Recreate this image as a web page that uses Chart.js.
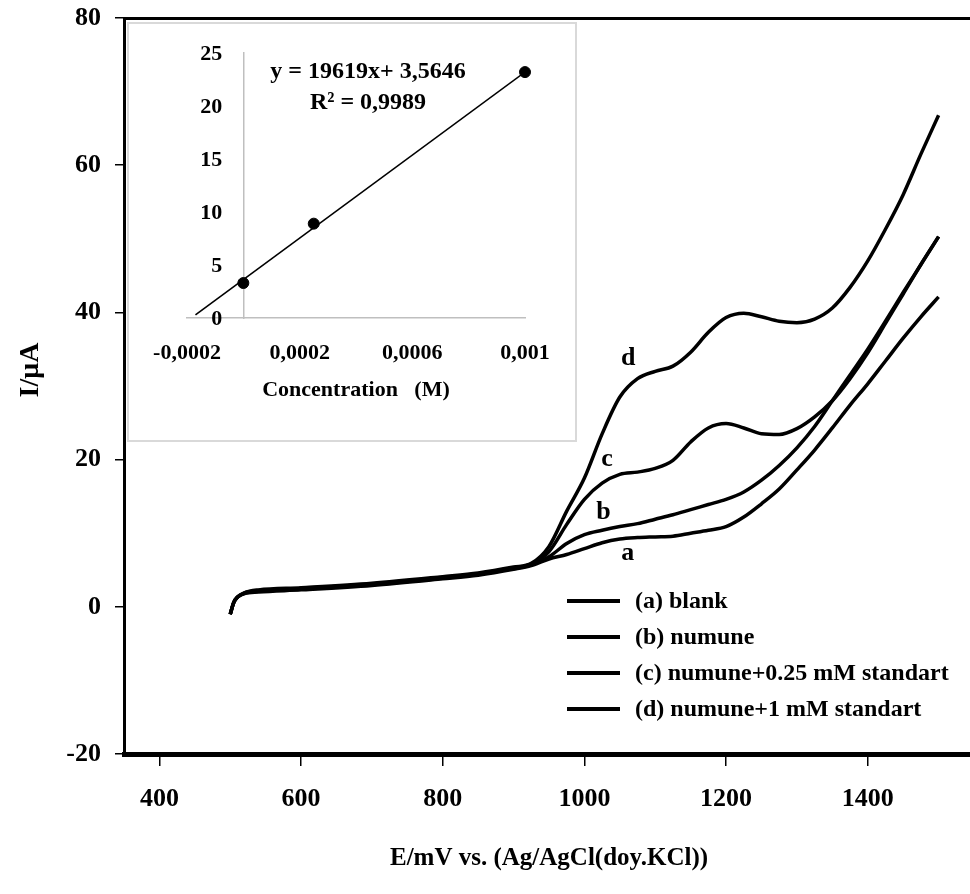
<!DOCTYPE html>
<html>
<head>
<meta charset="utf-8">
<script src="https://cdn.jsdelivr.net/npm/chart.js@4.4.1/dist/chart.umd.min.js"></script>
<style>
  html, body { margin: 0; padding: 0; background: #fff; overflow: hidden; }
  #wrap { position: relative; width: 970px; height: 894px; overflow: hidden; }
  #main { position: absolute; left: 0; top: 0; }
  #inset { position: absolute; left: 127px; top: 22px; width: 450px; height: 420px;
           box-sizing: border-box; border: 2px solid #d9d9d9; background: #fff; }
</style>
</head>
<body>
<div id="wrap">
  <canvas id="main" width="980" height="894"></canvas>
  <div id="inset"><canvas id="insetChart" width="446" height="416"></canvas></div>
</div>
<script>
// potential (mV) and currents (uA)
var potential = [500, 505, 510, 520, 540, 600, 700, 800, 850, 900, 925, 950, 975, 1000, 1025, 1050, 1075, 1100, 1125, 1150, 1175, 1200, 1225, 1250, 1275, 1300, 1325, 1350, 1375, 1400, 1425, 1450, 1475, 1500];
var blank  = [-1.0, 0.6, 1.3, 1.8, 2.0, 2.3, 2.9, 3.8, 4.3, 5.1, 5.6, 6.5, 7.1, 7.9, 8.7, 9.2, 9.4, 9.5, 9.6, 10.0, 10.4, 10.9, 12.2, 14.0, 16.0, 18.6, 21.3, 24.3, 27.4, 30.3, 33.4, 36.5, 39.4, 42.1];
var sample = [-1.0, 0.6, 1.3, 1.8, 2.1, 2.4, 3.0, 3.9, 4.4, 5.2, 5.7, 6.8, 8.6, 9.8, 10.4, 10.9, 11.3, 11.9, 12.5, 13.2, 13.9, 14.6, 15.6, 17.2, 19.2, 21.6, 24.5, 28.0, 31.5, 35.0, 38.8, 42.7, 46.5, 50.3];
var spiked025 = [-1.0, 0.6, 1.3, 1.9, 2.2, 2.5, 3.1, 4.0, 4.5, 5.3, 5.8, 7.5, 11.2, 14.6, 16.8, 18.0, 18.3, 18.8, 19.9, 22.4, 24.3, 24.9, 24.3, 23.5, 23.4, 24.2, 25.8, 28.0, 31.0, 34.5, 38.5, 42.5, 46.5, 50.3];
var spiked1 = [-1.0, 0.6, 1.3, 1.9, 2.3, 2.6, 3.2, 4.1, 4.6, 5.4, 5.9, 8.2, 13.0, 17.5, 23.5, 28.5, 31.0, 32.0, 32.7, 34.6, 37.3, 39.3, 39.9, 39.4, 38.8, 38.6, 39.1, 40.6, 43.4, 47.0, 51.3, 56.0, 61.5, 66.8];
var seriesNames = ['(a) blank', '(b) numune', '(c) numune+0.25 mM standart', '(d) numune+1 mM standart'];
var potentialTicks = [400, 600, 800, 1000, 1200, 1400];
var currentTicks = [-20, 0, 20, 40, 60, 80];
var curveLetters = ['a', 'b', 'c', 'd'];
var letterE = [1061, 1027, 1032, 1062];
var letterI = [7.3, 12.8, 20.1, 33.8];

// calibration inset
var concentration = [0, 0.00025, 0.001];
var peakCurrent = [3.3, 8.9, 23.2];
var trendConc = [-0.00017, 0.001];
var trendCurrent = [0.3, 23.2];
var concTicks = [-0.0002, 0.0002, 0.0006, 0.001];
var concTickLabels = ['-0,0002', '0,0002', '0,0006', '0,001'];
var insetCurrentTicks = [0, 5, 10, 15, 20, 25];
var equationLines = ['y = 19619x+ 3,5646', 'R\u00b2 = 0,9989'];

var FONT = 'Liberation Serif';
function bold(size) { return { family: FONT, size: size, weight: 'bold' }; }
function css(size) { return 'bold ' + size + 'px "' + FONT + '"'; }
function xy(xs, ys) { return xs.map(function (x, i) { return { x: x, y: ys[i] }; }); }

var allSeries = [blank, sample, spiked025, spiked1];
var datasets = allSeries.map(function (s, i) {
  return {
    label: seriesNames[i],
    data: xy(potential, s),
    borderColor: '#000',
    borderWidth: 3.5,
    pointRadius: 0,
    fill: false,
    cubicInterpolationMode: 'monotone'
  };
});

var annotations = {
  id: 'annotations',
  afterDatasetsDraw: function (chart) {
    var ctx = chart.ctx, xs = chart.scales.x, ys = chart.scales.y;
    ctx.save();
    ctx.fillStyle = '#000';
    ctx.font = css(26);
    ctx.textAlign = 'center';
    ctx.textBaseline = 'middle';
    curveLetters.forEach(function (t, i) {
      ctx.fillText(t, xs.getPixelForValue(letterE[i]), ys.getPixelForValue(letterI[i]));
    });
    // legend
    ctx.font = css(24);
    ctx.textAlign = 'left';
    ctx.strokeStyle = '#000';
    ctx.lineWidth = 4;
    seriesNames.forEach(function (name, i) {
      var y = 601 + i * 36;
      ctx.beginPath();
      ctx.moveTo(567, y);
      ctx.lineTo(620, y);
      ctx.stroke();
      ctx.fillText(name, 635, y + 1);
    });
    // y axis title
    ctx.translate(31, 370);
    ctx.rotate(-Math.PI / 2);
    ctx.textAlign = 'center';
    ctx.font = css(28);
    ctx.fillText('I/\u03bcA', 0, 0);
    ctx.restore();
  }
};

new Chart(document.getElementById('main'), {
  type: 'line',
  data: { datasets: datasets },
  options: {
    responsive: false,
    animation: false,
    layout: { padding: { left: 0, top: 0, right: 6, bottom: 0 } },
    plugins: { legend: { display: false }, tooltip: { enabled: false } },
    scales: {
      x: {
        type: 'linear', min: 350, max: 1550, position: 'bottom',
        afterBuildTicks: function (s) { s.ticks = potentialTicks.map(function (v) { return { value: v }; }); },
        afterFit: function (s) { s.height = 140; s.paddingLeft = 0; s.paddingRight = 0; },
        grid: { drawOnChartArea: false, drawTicks: true, tickLength: 12, color: '#000', lineWidth: 1.5 },
        border: { color: '#000', width: 5 },
        ticks: { font: bold(26), color: '#000', padding: 18, maxRotation: 0,
                 callback: function (v) { return String(v); } },
        title: { display: true, text: 'E/mV vs. (Ag/AgCl(doy.KCl))', font: bold(25), color: '#000', padding: { top: 0, bottom: 20 } }
      },
      xTop: {
        type: 'linear', min: 350, max: 1550, position: 'top',
        afterFit: function (s) { s.height = 18; s.paddingLeft = 0; s.paddingRight = 0; },
        grid: { display: false },
        ticks: { display: false },
        border: { color: '#000', width: 3 }
      },
      y: {
        type: 'linear', min: -20, max: 80, position: 'left',
        afterBuildTicks: function (s) { s.ticks = currentTicks.map(function (v) { return { value: v }; }); },
        afterFit: function (s) { s.width = 124; s.paddingTop = 0; s.paddingBottom = 0; },
        grid: { drawOnChartArea: false, drawTicks: true, tickLength: 9, color: '#000', lineWidth: 1.5 },
        border: { color: '#000', width: 3 },
        ticks: { font: bold(26), color: '#000', padding: 14, callback: function (v) { return String(v); } }
      }
    }
  },
  plugins: [annotations]
});

var insetText = {
  id: 'insetText',
  afterDatasetsDraw: function (chart) {
    var ctx = chart.ctx, xs = chart.scales.x, ys = chart.scales.y;
    ctx.save();
    ctx.fillStyle = '#000';
    ctx.textBaseline = 'middle';
    // y tick labels, left of the axis that crosses at x = 0
    ctx.font = css(22);
    ctx.textAlign = 'right';
    var axisX = xs.getPixelForValue(0);
    insetCurrentTicks.forEach(function (v) {
      ctx.fillText(String(v), axisX - 21, ys.getPixelForValue(v) + 1);
    });
    ctx.font = css(24);
    ctx.textAlign = 'center';
    ctx.fillText(equationLines[0], 239, 48);
    ctx.fillText(equationLines[1], 239, 79);
    ctx.restore();
  }
};

new Chart(document.getElementById('insetChart'), {
  type: 'scatter',
  data: {
    datasets: [
      { data: xy(concentration, peakCurrent), backgroundColor: '#000', borderColor: '#000', pointRadius: 5.5, showLine: false, clip: false },
      { data: xy(trendConc, trendCurrent), type: 'line', borderColor: '#000', borderWidth: 1.6, pointRadius: 0, fill: false }
    ]
  },
  options: {
    responsive: false,
    animation: false,
    layout: { padding: { left: 58, right: 50, top: 29, bottom: 0 } },
    plugins: { legend: { display: false }, tooltip: { enabled: false } },
    scales: {
      x: {
        type: 'linear', min: -0.0002, max: 0.001, position: 'bottom',
        afterBuildTicks: function (s) { s.ticks = concTicks.map(function (v) { return { value: v }; }); },
        afterFit: function (s) { s.height = 122; },
        grid: { drawOnChartArea: false, drawTicks: false },
        border: { color: '#bfbfbf', width: 1.5 },
        ticks: { font: bold(22), color: '#000', padding: 22, maxRotation: 0,
                 callback: function (v, i) { return concTickLabels[i]; } },
        title: { display: true, text: 'Concentration   (M)', font: bold(22), color: '#000', padding: { top: 0, bottom: 36 } }
      },
      y: {
        type: 'linear', min: 0, max: 25, position: { x: 0 },
        afterBuildTicks: function (s) { s.ticks = insetCurrentTicks.map(function (v) { return { value: v }; }); },
        grid: { drawOnChartArea: false, drawTicks: false },
        border: { color: '#bfbfbf', width: 1.5 },
        ticks: { display: false }
      }
    }
  },
  plugins: [insetText]
});
</script>
</body>
</html>
